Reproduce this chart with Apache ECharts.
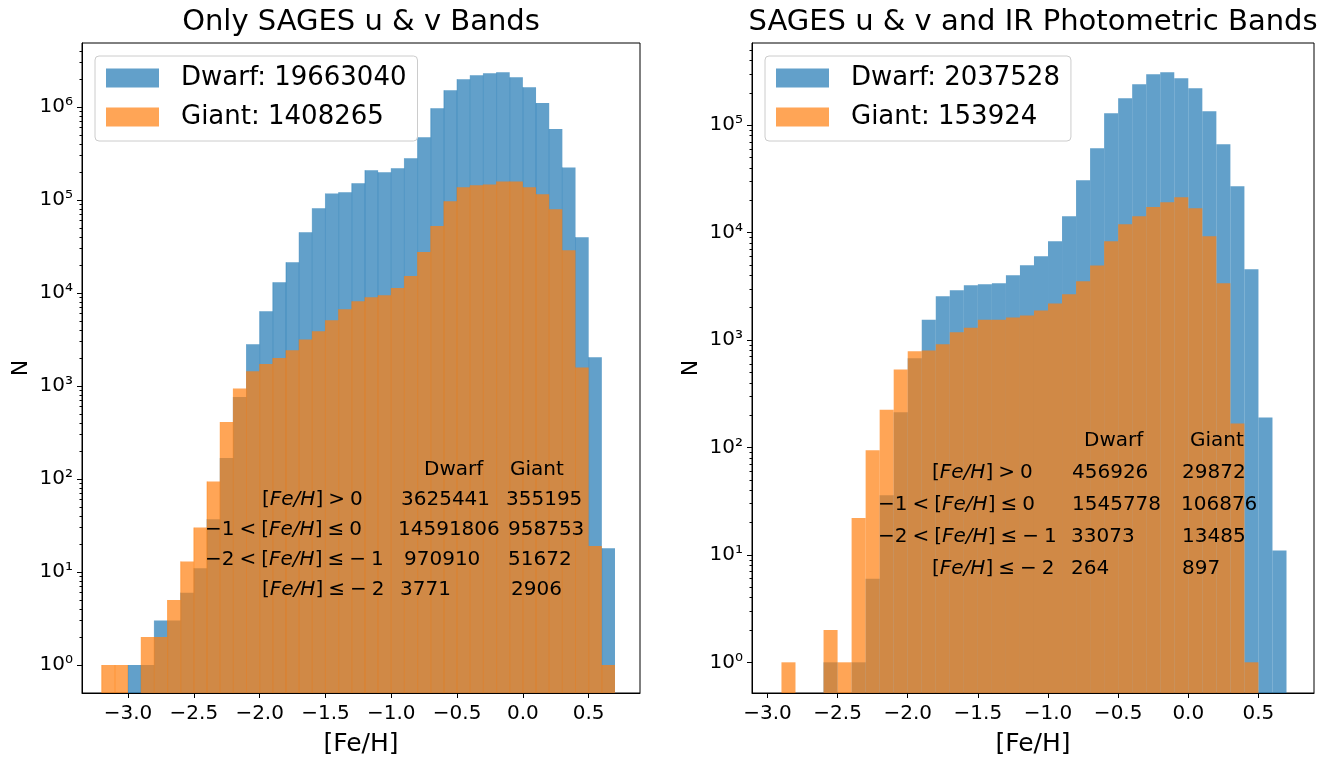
<!DOCTYPE html>
<html>
<head>
<meta charset="utf-8">
<title>SAGES [Fe/H] histograms</title>
<script src="https://cdn.jsdelivr.net/npm/echarts@6/dist/echarts.min.js"></script>
<style>
  html, body { margin: 0; padding: 0; background: #fff; }
  #chart { width: 1335px; height: 761px; }
</style>
</head>
<body>
<div id="chart"></div>
<script>
// ---- data ----
// left edges of the 0.1 dex [Fe/H] bins
const binWidth = 0.1;
const binsUV = [-3.2, -3.1, -3.0, -2.9, -2.8, -2.7, -2.6, -2.5, -2.4, -2.3, -2.2, -2.1,
  -2.0, -1.9, -1.8, -1.7, -1.6, -1.5, -1.4, -1.3, -1.2, -1.1,
  -1.0, -0.9, -0.8, -0.7, -0.6, -0.5, -0.4, -0.3, -0.2, -0.1,
  0.0, 0.1, 0.2, 0.3, 0.4, 0.5, 0.6];
const dwarfUV = [0, 0, 1, 1, 3, 3, 6, 11, 37, 168, 760, 2810,
  6360, 13030, 21400, 44900, 81300, 117500, 121000, 151000, 209000, 198000,
  219000, 281000, 472000, 968000, 1510000, 1990000, 2190000, 2300000, 2360000, 2080000,
  1630000, 1100000, 578000, 224000, 39800, 2040, 18];
const giantUV = [1, 1, 0, 2, 2, 5, 13, 30, 94, 410, 937, 1440,
  1725, 1995, 2420, 3160, 3880, 5080, 6680, 8130, 9000, 9450,
  11300, 15200, 27600, 52500, 96800, 137000, 144000, 147000, 158000, 158000,
  137000, 115000, 79400, 28800, 1580, 19, 1];

const binsIR = [-2.9, -2.8, -2.7, -2.6, -2.5, -2.4, -2.3, -2.2, -2.1,
  -2.0, -1.9, -1.8, -1.7, -1.6, -1.5, -1.4, -1.3, -1.2, -1.1,
  -1.0, -0.9, -0.8, -0.7, -0.6, -0.5, -0.4, -0.3, -0.2, -0.1,
  0.0, 0.1, 0.2, 0.3, 0.4, 0.5, 0.6];
const dwarfIR = [0, 0, 0, 1, 0, 1, 6, 36, 213,
  676, 1550, 2560, 2910, 3240, 3310, 3380, 4010, 4970, 6030,
  8320, 14200, 30800, 61100, 129000, 178000, 241000, 298000, 311000, 274000,
  221000, 135000, 66500, 27000, 4570, 190, 11];
const giantIR = [1, 0, 0, 2, 1, 22, 94, 225, 531,
  787, 800, 912, 1180, 1300, 1550, 1550, 1620, 1690, 1890,
  2190, 2670, 3520, 4940, 8320, 12000, 14200, 17300, 19200, 21400,
  16900, 9250, 3380, 167, 1, 0, 0];

const totalsUV = { dwarf: 19663040, giant: 1408265 };
const totalsIR = { dwarf: 2037528, giant: 153924 };

const tableHeader = ['Dwarf', 'Giant'];
const tableLabels = ['[Fe/H]\u2005>\u20050', '\u22121\u2005<\u2005[Fe/H]\u2005\u2264\u20050',
  '\u22122\u2005<\u2005[Fe/H]\u2005\u2264\u2005\u2212\u20051', '[Fe/H]\u2005\u2264\u2005\u2212\u20052'];
const tableDwarfUV = ['3625441', '14591806', '970910', '3771'];
const tableGiantUV = ['355195', '958753', '51672', '2906'];
const tableDwarfIR = ['456926', '1545778', '33073', '264'];
const tableGiantIR = ['29872', '106876', '13485', '897'];

const xTicks = [-3.0, -2.5, -2.0, -1.5, -1.0, -0.5, 0.0, 0.5];
const yMajor = [1, 10, 100, 1000, 10000, 100000, 1000000];
const minorSteps = [2, 3, 4, 5, 6, 7, 8, 9];

// ---- styling ----
const FONT = 'DejaVu Sans';
const BLUE = 'rgba(31,119,180,0.7)';
const ORANGE = 'rgba(255,127,14,0.7)';
const SUP = ['\u2070', '\u00b9', '\u00b2', '\u00b3', '\u2074', '\u2075', '\u2076', '\u2077'];

const yMinor = [];
yMajor.forEach(function (p) { minorSteps.forEach(function (m) { yMinor.push(p * m); }); });

const chart = echarts.init(document.getElementById('chart'));

function fmtX(v) {
  return (v < 0 ? '\u2212' : '') + Math.abs(v).toFixed(1);
}
function fmtY(v) {
  return '10' + SUP[Math.round(Math.log10(v))];
}

function histSeries(name, bins, counts, panel, color, seam) {
  const data = [];
  bins.forEach(function (b, i) {
    if (counts[i] > 0) data.push([b, b + binWidth, counts[i]]);
  });
  return {
    type: 'custom',
    name: name,
    xAxisIndex: panel,
    yAxisIndex: panel * 2,
    data: data,
    encode: { x: [0, 1], y: 2 },
    itemStyle: { color: color },
    clip: true,
    silent: true,
    renderItem: function (params, api) {
      const tl = api.coord([api.value(0), api.value(2)]);
      const tr = api.coord([api.value(1), api.value(2)]);
      const bottom = params.coordSys.y + params.coordSys.height;
      const kids = [{
        type: 'rect',
        shape: { x: tl[0], y: tl[1], width: tr[0] - tl[0], height: bottom - tl[1] },
        style: { fill: color }
      }];
      if (seam) {
        kids.push({
          type: 'line',
          shape: { x1: tl[0], y1: tl[1], x2: tl[0], y2: bottom },
          style: { stroke: seam, lineWidth: 1 }
        });
      }
      return { type: 'group', children: kids };
    }
  };
}

function xAxis(panel, min, max) {
  return {
    type: 'value', gridIndex: panel, min: min, max: max,
    axisLine: { onZero: false, lineStyle: { color: '#000', width: 1 } },
    axisTick: { customValues: xTicks, length: 5, lineStyle: { color: '#000' } },
    axisLabel: { customValues: xTicks, formatter: fmtX, margin: 11, fontSize: 20, fontFamily: FONT, color: '#000' },
    splitLine: { show: false },
    name: '[Fe/H]', nameLocation: 'middle', nameGap: 39,
    nameTextStyle: { fontSize: 25, fontFamily: FONT, color: '#000' }
  };
}

function yAxes(panel, min, max) {
  return [{
    type: 'log', logBase: 10, gridIndex: panel, min: min, max: max, position: 'left',
    axisLine: { show: true, onZero: false, lineStyle: { color: '#000', width: 1 } },
    axisTick: { show: true, customValues: yMajor, length: 5, lineStyle: { color: '#000' } },
    axisLabel: { customValues: yMajor, formatter: fmtY, margin: 9, fontSize: 20, fontFamily: FONT, color: '#000' },
    splitLine: { show: false },
    minorTick: { show: false },
    name: 'N', nameLocation: 'middle', nameGap: 50,
    nameTextStyle: { fontSize: 22, fontFamily: FONT, color: '#000' }
  }, {
    type: 'log', logBase: 10, gridIndex: panel, min: min, max: max, position: 'left',
    axisLine: { show: false, onZero: false },
    axisTick: { show: true, customValues: yMinor, length: 2.5, lineStyle: { color: '#000' } },
    axisLabel: { show: false },
    splitLine: { show: false }
  }];
}

function legendFor(left, names) {
  return {
    data: names, left: left, top: 56, orient: 'vertical',
    icon: 'rect', itemWidth: 53, itemHeight: 19, itemGap: 9,
    padding: [7, 11, 9, 11],
    backgroundColor: 'rgba(255,255,255,0.8)', borderColor: '#cccccc', borderWidth: 1, borderRadius: 4,
    selectedMode: false,
    textStyle: { fontSize: 26, fontFamily: FONT, color: '#000', lineHeight: 30, padding: [0, 0, 0, 17] }
  };
}

function txt(text, x, y, size, align) {
  return {
    type: 'text', x: x, y: y, z: 100, silent: true,
    style: {
      text: text, fill: '#000', fontSize: size, fontFamily: FONT,
      align: align || 'left', verticalAlign: 'middle',
      rich: { i: { fontStyle: 'italic', fontSize: size, fontFamily: FONT, fill: '#000' } }
    }
  };
}

function tableGraphics(pos, dwarf, giant) {
  const g = [
    txt(tableHeader[0], pos.headX[0], pos.headY, 20),
    txt(tableHeader[1], pos.headX[1], pos.headY, 20)
  ];
  tableLabels.forEach(function (lab, i) {
    g.push(txt(lab.replace('Fe/H', '{i|Fe/H}'), pos.labelX[i], pos.rowY[i], 20));
    g.push(txt(dwarf[i], pos.dwarfX[i], pos.rowY[i], 20));
    g.push(txt(giant[i], pos.giantX[i], pos.rowY[i], 20));
  });
  return g;
}

const posUV = {
  headX: [424, 510], headY: 470,
  labelX: [262, 205, 205, 262], dwarfX: [401, 398, 404, 400], giantX: [506, 508, 508, 511],
  rowY: [500, 530, 560, 590]
};
const posIR = {
  headX: [1084, 1190], headY: 441,
  labelX: [932, 878, 878, 932], dwarfX: [1072, 1072, 1071, 1071], giantX: [1182, 1181, 1182, 1182],
  rowY: [473, 505, 537, 569]
};

const nDwarfUV = 'Dwarf: ' + totalsUV.dwarf, nGiantUV = 'Giant: ' + totalsUV.giant;
const nDwarfIR = 'Dwarf: ' + totalsIR.dwarf, nGiantIR = 'Giant: ' + totalsIR.giant;

const option = {
  animation: false,
  backgroundColor: '#fff',
  grid: [
    { left: 82, top: 43, width: 558, height: 650, show: true, borderColor: '#000', borderWidth: 1, outerBoundsMode: 'none' },
    { left: 752, top: 43, width: 562, height: 650, show: true, borderColor: '#000', borderWidth: 1, outerBoundsMode: 'none' }
  ],
  xAxis: [xAxis(0, -3.35, 0.89), xAxis(1, -3.11, 0.896)],
  yAxis: yAxes(0, 0.5, 4.87e6).concat(yAxes(1, 0.518, 5.83e5)),
  legend: [legendFor(95, [nDwarfUV, nGiantUV]), legendFor(765, [nDwarfIR, nGiantIR])],
  series: [
    histSeries(nDwarfUV, binsUV, dwarfUV, 0, BLUE, 'rgba(31,119,180,0.45)'),
    histSeries(nGiantUV, binsUV, giantUV, 0, ORANGE, 'rgba(255,127,14,0.5)'),
    histSeries(nDwarfIR, binsIR, dwarfIR, 1, BLUE, null),
    histSeries(nGiantIR, binsIR, giantIR, 1, ORANGE, null)
  ],
  graphic: [
    txt('Only SAGES u & v Bands', 361, 22, 29, 'center'),
    txt('SAGES u & v and IR Photometric Bands', 1033, 22, 29, 'center')
  ].concat(tableGraphics(posUV, tableDwarfUV, tableGiantUV), tableGraphics(posIR, tableDwarfIR, tableGiantIR))
};

chart.setOption(option);
</script>
</body>
</html>
